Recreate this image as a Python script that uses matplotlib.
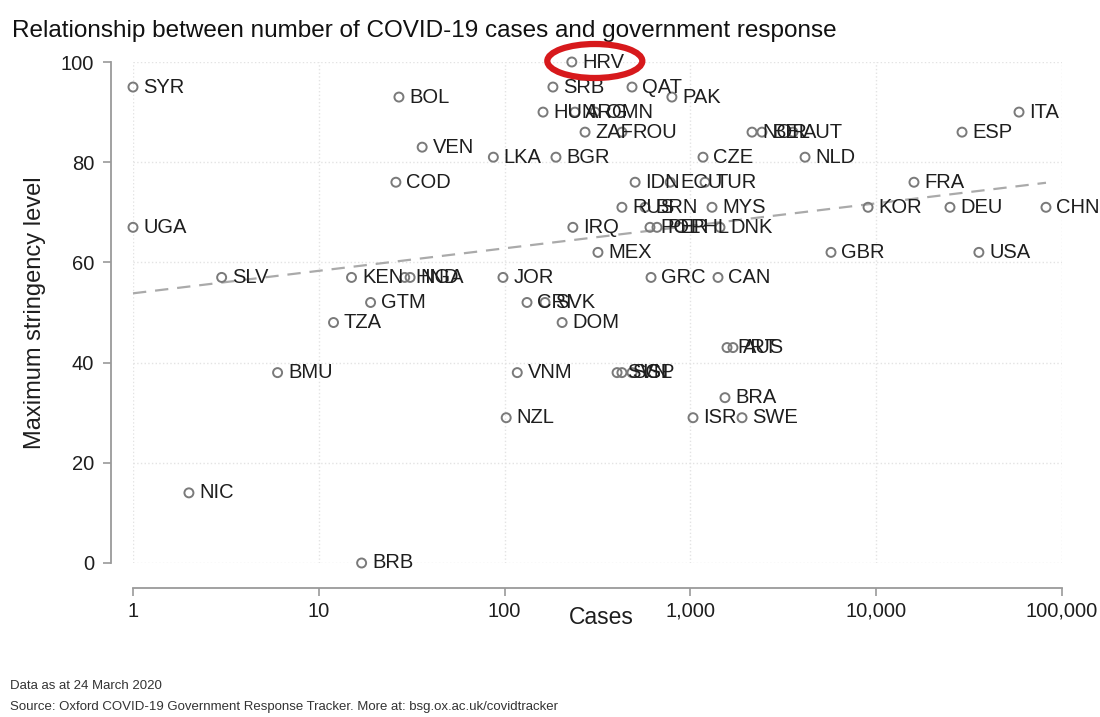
"""Scatter of COVID-19 cases vs maximum stringency level (Oxford tracker style)"""
import numpy as np
import matplotlib
matplotlib.use("Agg")
import matplotlib.pyplot as plt
from matplotlib.patches import Ellipse
from matplotlib.ticker import FixedLocator, FuncFormatter

plt.rcParams["font.family"] = ["Liberation Sans", "DejaVu Sans"]

# country codes, confirmed cases (log axis) and max stringency
countries = ['SYR', 'UGA', 'SLV', 'NIC', 'BMU', 'TZA', 'KEN', 'HND', 'NGA', 'GTM',
             'COD', 'BOL', 'VEN', 'BRB', 'LKA', 'JOR', 'NZL', 'VNM', 'CRI', 'SVK',
             'DOM', 'MEX', 'IRQ', 'BGR', 'HUN', 'ARG', 'OMN', 'SRB', 'HRV', 'ZAF',
             'ROU', 'QAT', 'PAK', 'IDN', 'ECU', 'TUR', 'RUS', 'BRN', 'MYS', 'POL',
             'PER', 'PHL', 'DNK', 'GRC', 'CAN', 'CZE', 'NOR', 'BEL', 'AUT', 'NLD',
             'PRT', 'AUS', 'SVN', 'SGP', 'ISL', 'BRA', 'ISR', 'SWE', 'GBR', 'FRA',
             'KOR', 'DEU', 'ESP', 'USA', 'ITA', 'CHN']
cases = [1, 1, 3, 2, 6, 12, 15, 29, 31, 19,
         26, 27, 36, 17, 87, 98, 102, 117, 132, 165,
         204, 318, 233, 189, 161, 239, 307, 182, 230, 271,
         428, 485, 795, 504, 778, 1199, 428, 570, 1307, 606,
         661, 879, 1443, 614, 1408, 1169, 2146, 2427, 3565, 4140,
         1574, 1695, 403, 428, 485, 1535, 1033, 1896, 5712, 15970,
         9040, 24950, 28970, 35700, 58700, 82000]
stringency = [95, 67, 57, 14, 38, 48, 57, 57, 57, 52,
              76, 93, 83, 0, 81, 57, 29, 38, 52, 52,
              48, 62, 67, 81, 90, 90, 90, 95, 100, 86,
              86, 95, 93, 76, 76, 76, 71, 71, 71, 67,
              67, 67, 67, 57, 57, 81, 86, 86, 86, 81,
              43, 43, 38, 38, 38, 33, 29, 29, 62, 76,
              71, 71, 86, 62, 90, 71]

x_ticks = [1, 10, 100, 1000, 10000, 100000]
y_ticks = [0, 20, 40, 60, 80, 100]
highlight = 'HRV'

fig = plt.figure(figsize=(11, 7.17), dpi=100)
ax = fig.add_axes([133 / 1100, 154 / 717, 929 / 1100, 501 / 717])
ax.set_xscale('log')
ax.set_xlim(1, 100000)
ax.set_ylim(0, 100)

grey = '#7a7a7a'
ink = '#1e1e1e'
ax.scatter(cases, stringency, s=42, facecolors='none', edgecolors=grey,
           linewidths=1.4, zorder=3, clip_on=False)
for c, xv, yv in zip(countries, cases, stringency):
    ax.annotate(c, (xv, yv), xytext=(7.5, 0), textcoords='offset points',
                va='center', ha='left', fontsize=14.5, color=ink,
                zorder=4, annotation_clip=False)

# linear fit of stringency on log10(cases)
lx = np.log10(cases)
slope, intercept = np.polyfit(lx, stringency, 1)
xs = np.linspace(0, lx.max(), 50)
ax.plot(10 ** xs, intercept + slope * xs, ls=(0, (6, 4)), color='#aaaaaa',
        lw=1.6, zorder=2, clip_on=False)

# red ring around the highlighted country
i = countries.index(highlight)
px, py = ax.transData.transform((cases[i], stringency[i]))
ring = Ellipse((px + 23, py + 1), 95, 34, fill=False, edgecolor='#d7191c', lw=4.5,
               transform=None, zorder=5)
fig.add_artist(ring)

# stata-ish axes
for s in ['top', 'right']:
    ax.spines[s].set_visible(False)
ax.spines['left'].set_position(('outward', 16))
ax.spines['bottom'].set_position(('outward', 18))
ax.spines['left'].set_bounds(0, 100)
ax.spines['bottom'].set_bounds(1, 100000)
for s in ['left', 'bottom']:
    ax.spines[s].set_color('#9a9a9a')
    ax.spines[s].set_linewidth(1.3)

ax.xaxis.set_major_locator(FixedLocator(x_ticks))
ax.xaxis.set_minor_locator(FixedLocator([]))
ax.xaxis.set_major_formatter(FuncFormatter(lambda v, p: f'{v:,.0f}'))
ax.set_yticks(y_ticks)
ax.tick_params(axis='both', colors='#9a9a9a', labelcolor=ink,
               labelsize=14.5, length=6, width=1.2)
ax.tick_params(axis='y', pad=6)
ax.tick_params(axis='x', pad=4)
ax.grid(True, which='major', color='#e3e3e3', ls=':', lw=1)
ax.set_axisbelow(True)

fig.text(601 / 1100, 1 - 618 / 717, 'Cases', fontsize=16.5, color=ink,
         ha='center', va='center')
fig.text(35 / 1100, 1 - 313 / 717, 'Maximum stringency level', fontsize=17,
         color=ink, ha='center', va='center', rotation=90)

fig.text(12 / 1100, 1 - 37 / 717, 'Relationship between number of COVID-19 cases and government response',
         fontsize=17.5, color='#111111', va='baseline')
fig.text(10 / 1100, 1 - 689 / 717, 'Data as at 24 March 2020', fontsize=9.5, color='#333333',
         va='baseline')
fig.text(10 / 1100, 1 - 710 / 717,
         'Source: Oxford COVID-19 Government Response Tracker. More at: bsg.ox.ac.uk/covidtracker',
         fontsize=9.5, color='#333333', va='baseline')

fig.savefig('out.png', dpi=100)
